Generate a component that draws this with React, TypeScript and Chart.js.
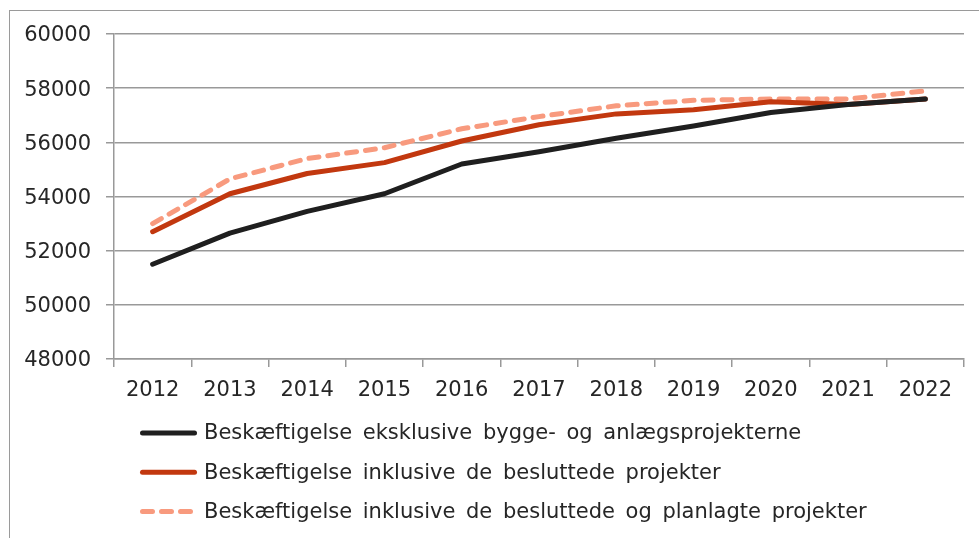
import React, { useEffect, useRef } from "react";
import { Chart, registerables } from "chart.js";

Chart.register(...registerables);

const years = ["2012", "2013", "2014", "2015", "2016", "2017", "2018", "2019", "2020", "2021", "2022"];
const exclusive = [51500, 52650, 53450, 54100, 55200, 55650, 56150, 56600, 57100, 57400, 57600];
const decided = [52700, 54100, 54850, 55250, 56050, 56650, 57050, 57200, 57500, 57400, 57600];
const planned = [53000, 54650, 55400, 55800, 56500, 56950, 57350, 57550, 57600, 57600, 57900];
const seriesLabels = [
  "Beskæftigelse eksklusive bygge- og anlægsprojekterne",
  "Beskæftigelse inklusive de besluttede projekter",
  "Beskæftigelse inklusive de besluttede og planlagte projekter",
];
const yMin = 48000;
const yMax = 60000;
const yStep = 2000;

const FONT = '"DejaVu Sans", Verdana, sans-serif';
const TEXT = "#262626";
const GRID = "#999999";

const legendPlugin = {
  id: "customLegend",
  afterDraw(chart: any) {
    const ctx = chart.ctx;
    const area = chart.chartArea;
    const x0 = area.left + 28.5;
    const x1 = area.left + 80.5;
    const tx = area.left + 90;
    chart.data.datasets.forEach((ds: any, i: number) => {
      const y = area.bottom + 74 + i * 39.3;
      ctx.save();
      ctx.strokeStyle = ds.borderColor;
      ctx.lineWidth = ds.borderWidth;
      ctx.lineCap = "round";
      ctx.setLineDash(ds.borderDash || []);
      ctx.beginPath();
      ctx.moveTo(x0, y);
      ctx.lineTo(x1, y);
      ctx.stroke();
      ctx.setLineDash([]);
      ctx.fillStyle = TEXT;
      ctx.font = `21px ${FONT}`;
      ctx.textBaseline = "middle";
      ctx.textAlign = "left";
      const extra = 4;
      if ("wordSpacing" in ctx) {
        (ctx as any).wordSpacing = `${extra}px`;
        ctx.fillText(ds.label, tx, y + 1);
      } else {
        let cx = tx;
        const space = ctx.measureText(" ").width + extra;
        String(ds.label)
          .split(" ")
          .forEach((w: string) => {
            ctx.fillText(w, cx, y + 1);
            cx += ctx.measureText(w).width + space;
          });
      }
      ctx.restore();
    });
  },
};

export default function App() {
  const ref = useRef<HTMLCanvasElement | null>(null);

  useEffect(() => {
    if (!ref.current) return;
    const chart = new Chart(ref.current, {
      type: "line",
      data: {
        labels: years,
        datasets: [
          {
            label: seriesLabels[0],
            data: exclusive,
            borderColor: "#1f1f1f",
            backgroundColor: "#1f1f1f",
            borderWidth: 5,
            pointRadius: 0,
            tension: 0,
            borderCapStyle: "round",
            borderJoinStyle: "round",
          },
          {
            label: seriesLabels[1],
            data: decided,
            borderColor: "#c2380f",
            backgroundColor: "#c2380f",
            borderWidth: 5,
            pointRadius: 0,
            tension: 0,
            borderCapStyle: "round",
            borderJoinStyle: "round",
          },
          {
            label: seriesLabels[2],
            data: planned,
            borderColor: "#f89a7e",
            backgroundColor: "#f89a7e",
            borderWidth: 5,
            borderDash: [10, 9],
            pointRadius: 0,
            tension: 0,
            borderCapStyle: "round",
            borderJoinStyle: "round",
          },
        ],
      },
      options: {
        animation: false,
        responsive: false,
        maintainAspectRatio: false,
        layout: { padding: { left: 0, top: 34, right: 15, bottom: 139 } },
        plugins: {
          legend: { display: false },
          tooltip: { enabled: false },
          title: { display: false },
        },
        scales: {
          x: {
            type: "category",
            offset: true,
            grid: {
              offset: true,
              drawOnChartArea: false,
              drawTicks: true,
              tickLength: 8,
              color: GRID,
              lineWidth: 1.5,
            },
            border: { display: true, color: GRID, width: 1.5 },
            ticks: {
              color: TEXT,
              font: { family: FONT, size: 21 },
              padding: 11,
              maxRotation: 0,
              autoSkip: false,
            },
            afterFit(scale: any) {
              scale.height = 40;
            },
          },
          y: {
            min: yMin,
            max: yMax,
            grid: {
              color: GRID,
              lineWidth: 1.5,
              drawTicks: true,
              tickLength: 8,
            },
            border: { display: true, color: GRID, width: 1.5 },
            ticks: {
              stepSize: yStep,
              color: TEXT,
              font: { family: FONT, size: 21 },
              padding: 15,
              labelOffset: 2,
              callback: (v: any) => String(v),
            },
            afterFit(scale: any) {
              scale.width = 114;
            },
          },
        },
      },
      plugins: [legendPlugin],
    });
    return () => chart.destroy();
  }, []);

  return (
    <div
      style={{
        position: "fixed",
        left: 0,
        top: 0,
        width: 979,
        height: 538,
        overflow: "hidden",
        background: "#ffffff",
      }}
    >
      <div
        style={{
          position: "absolute",
          left: 9,
          top: 10,
          width: 2000,
          height: 2000,
          borderLeft: "1.5px solid #9a9a9a",
          borderTop: "1.5px solid #9a9a9a",
        }}
      />
      <canvas
        ref={ref}
        width={979}
        height={538}
        style={{ position: "absolute", left: 0, top: 0, width: 979, height: 538 }}
      />
    </div>
  );
}
